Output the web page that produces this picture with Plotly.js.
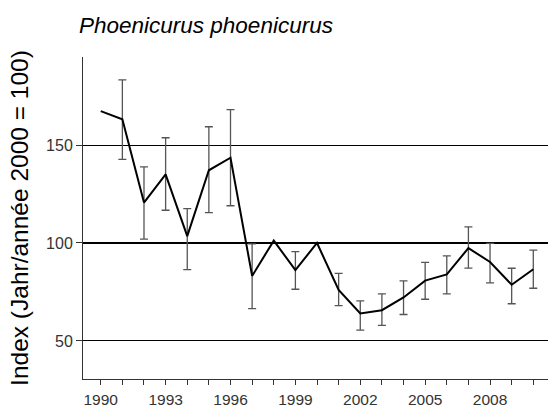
<!DOCTYPE html>
<html>
<head>
<meta charset="utf-8">
<script src="https://cdn.plot.ly/plotly-3.0.1.min.js"></script>
<style>html,body{margin:0;padding:0;background:#fff;}#chart{width:548px;height:407px;}</style>
</head>
<body>
<div id="chart"></div>
<script>
const years = [1990,1991,1992,1993,1994,1995,1996,1997,1998,1999,2000,2001,2002,2003,2004,2005,2006,2007,2008,2009,2010];
const indexValues = [167.3,163.1,120.6,135.0,103.5,137.1,143.5,83.2,101.2,86.2,100,76.0,64.0,65.7,72.2,80.8,84.0,97.4,90.3,78.7,86.6];
const upperValues = [null,183.2,138.8,153.7,117.5,159.3,168.0,99.5,null,95.6,null,84.5,70.5,74.0,80.7,90.1,93.4,108.2,99.8,87.1,96.4];
const lowerValues = [null,142.7,102.0,116.7,86.4,115.5,119.0,66.5,null,76.4,null,68.0,55.5,58.0,63.5,71.3,74.0,87.2,79.6,69.0,76.9];
const xTickVals = [1990,1993,1996,1999,2002,2005,2008];
const xTickText = ["1990","1993","1996","1999","2002","2005","2008"];
const yTickVals = [50,100,150];
const baseIndex = 100;
const chartTitle = "Phoenicurus phoenicurus";
const yTitle = "Index (Jahr/année 2000 = 100)";

const errPlus = indexValues.map((v,i) => upperValues[i] == null ? NaN : upperValues[i] - v);
const errMinus = indexValues.map((v,i) => lowerValues[i] == null ? NaN : v - lowerValues[i]);

const trace = {
  x: years, y: indexValues, type: 'scatter', mode: 'lines',
  line: {color: '#000', width: 2},
  error_y: {type: 'data', symmetric: false, array: errPlus, arrayminus: errMinus,
            color: '#555', thickness: 1.3, width: 4},
  hoverinfo: 'skip'
};

const layout = {
  width: 548, height: 407,
  margin: {l: 83, r: 0, t: 57, b: 28, pad: 0},
  paper_bgcolor: '#fff', plot_bgcolor: '#fff',
  font: {family: 'Liberation Sans, Arial, sans-serif', color: '#222'},
  showlegend: false,
  title: {text: '<i>' + chartTitle + '</i>', xref: 'container', yref: 'container', x: 79/548, xanchor: 'left', y: 1 - 25/407, yanchor: 'middle',
          font: {size: 22.5, color: '#000', family: 'Liberation Sans, Arial, sans-serif'}},
  xaxis: {range: [1989.18, 2010.68], tickmode: 'array', tickvals: xTickVals, ticktext: xTickText,
          ticks: 'outside', ticklen: 5, tickcolor: '#333', tickwidth: 1, ticklabelstandoff: 1,
          minor: {dtick: 1, tick0: 1990, ticks: 'outside', ticklen: 5, tickcolor: '#333', tickwidth: 1, showgrid: false},
          showgrid: false, zeroline: false, showline: true, linecolor: '#333', linewidth: 1,
          tickfont: {size: 15.5, color: '#333'}, fixedrange: true},
  yaxis: {range: [30.6, 194.9], tickmode: 'array', tickvals: yTickVals,
          ticks: 'outside', ticklen: 6, tickcolor: '#333', tickwidth: 1,
          showgrid: true, gridcolor: '#000', gridwidth: 1, zeroline: false,
          showline: true, linecolor: '#333', linewidth: 1,
          tickfont: {size: 16, color: '#333'},
          title: {text: yTitle, font: {size: 24.5, color: '#000'}, standoff: 10}, fixedrange: true},
  shapes: [{type: 'line', xref: 'paper', x0: 0, x1: 1, yref: 'y', y0: baseIndex, y1: baseIndex, line: {color: '#000', width: 2}, layer: 'below'}]
};

Plotly.newPlot('chart', [trace], layout, {displayModeBar: false, staticPlot: true});
</script>
</body>
</html>
